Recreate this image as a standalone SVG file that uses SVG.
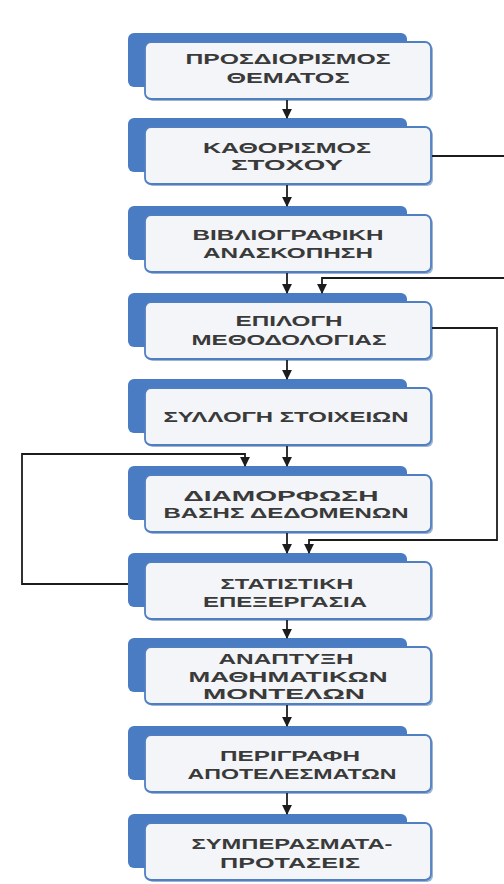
<svg xmlns="http://www.w3.org/2000/svg" width="504" height="884" viewBox="0 0 504 884">
<defs>
<style>
.back{fill:#4a7cc3;}
.shadow{fill:#9fb4d3;}
.front{fill:#f3f5f9;stroke:#4f7fc0;stroke-width:1.8;}
.t{font-family:"Liberation Sans","DejaVu Sans",sans-serif;font-size:14.5px;font-weight:bold;fill:#3a3a3a;text-anchor:middle;}
.c{fill:none;stroke:#1c1c1c;stroke-width:1.8;}
</style>
<marker id="ah" viewBox="0 0 10 10" refX="9" refY="5" markerWidth="5.5" markerHeight="5.5" orient="auto" markerUnits="strokeWidth">
<path d="M0,0 L10,5 L0,10 z" fill="#1c1c1c"/>
</marker>
</defs>
<rect width="504" height="884" fill="#ffffff"/>

<g id="n1">
<rect class="back" x="128" y="33" width="279" height="54" rx="6"/>
<rect class="shadow" x="147" y="44" width="286" height="57" rx="6"/>
<rect class="front" x="145" y="42" width="286" height="57" rx="6"/>
<text class="t" x="288" y="64" textLength="205" lengthAdjust="spacingAndGlyphs">ΠΡΟΣΔΙΟΡΙΣΜΟΣ</text>
<text class="t" x="288" y="83" textLength="123" lengthAdjust="spacingAndGlyphs">ΘΕΜΑΤΟΣ</text>
</g>
<g id="n2">
<rect class="back" x="128" y="118" width="279" height="54" rx="6"/>
<rect class="shadow" x="147" y="129" width="286" height="57" rx="6"/>
<rect class="front" x="145" y="127" width="286" height="57" rx="6"/>
<text class="t" x="287" y="153" textLength="168" lengthAdjust="spacingAndGlyphs">ΚΑΘΟΡΙΣΜΟΣ</text>
<text class="t" x="287" y="170" textLength="112" lengthAdjust="spacingAndGlyphs">ΣΤΟΧΟΥ</text>
</g>
<g id="n3">
<rect class="back" x="128" y="206" width="279" height="54" rx="6"/>
<rect class="shadow" x="147" y="217" width="286" height="57" rx="6"/>
<rect class="front" x="145" y="215" width="286" height="57" rx="6"/>
<text class="t" x="288" y="240" textLength="191" lengthAdjust="spacingAndGlyphs">ΒΙΒΛΙΟΓΡΑΦΙΚΗ</text>
<text class="t" x="288" y="258" textLength="170" lengthAdjust="spacingAndGlyphs">ΑΝΑΣΚΟΠΗΣΗ</text>
</g>
<g id="n4">
<rect class="back" x="128" y="293" width="279" height="54" rx="6"/>
<rect class="shadow" x="147" y="304" width="286" height="57" rx="6"/>
<rect class="front" x="145" y="302" width="286" height="57" rx="6"/>
<text class="t" x="289" y="326" textLength="107" lengthAdjust="spacingAndGlyphs">ΕΠΙΛΟΓΗ</text>
<text class="t" x="289" y="345" textLength="195" lengthAdjust="spacingAndGlyphs">ΜΕΘΟΔΟΛΟΓΙΑΣ</text>
</g>
<g id="n5">
<rect class="back" x="128" y="379" width="279" height="54" rx="6"/>
<rect class="shadow" x="147" y="390" width="286" height="57" rx="6"/>
<rect class="front" x="145" y="388" width="286" height="57" rx="6"/>
<text class="t" x="286" y="422" textLength="245" lengthAdjust="spacingAndGlyphs">ΣΥΛΛΟΓΗ ΣΤΟΙΧΕΙΩΝ</text>
</g>
<g id="n6">
<rect class="back" x="128" y="466" width="279" height="54" rx="6"/>
<rect class="shadow" x="147" y="477" width="286" height="57" rx="6"/>
<rect class="front" x="145" y="475" width="286" height="57" rx="6"/>
<text class="t" x="281" y="501" textLength="195" lengthAdjust="spacingAndGlyphs">ΔΙΑΜΟΡΦΩΣΗ</text>
<text class="t" x="286" y="518" textLength="245" lengthAdjust="spacingAndGlyphs">ΒΑΣΗΣ ΔΕΔΟΜΕΝΩΝ</text>
</g>
<g id="n7">
<rect class="back" x="128" y="553" width="279" height="54" rx="6"/>
<rect class="shadow" x="147" y="564" width="286" height="57" rx="6"/>
<rect class="front" x="145" y="562" width="286" height="57" rx="6"/>
<text class="t" x="287" y="589" textLength="133" lengthAdjust="spacingAndGlyphs">ΣΤΑΤΙΣΤΙΚΗ</text>
<text class="t" x="285" y="607" textLength="164" lengthAdjust="spacingAndGlyphs">ΕΠΕΞΕΡΓΑΣΙΑ</text>
</g>
<g id="n8">
<rect class="back" x="128" y="638" width="279" height="54" rx="6"/>
<rect class="shadow" x="147" y="649" width="286" height="57" rx="6"/>
<rect class="front" x="145" y="647" width="286" height="57" rx="6"/>
<text class="t" x="286" y="664" textLength="135" lengthAdjust="spacingAndGlyphs">ΑΝΑΠΤΥΞΗ</text>
<text class="t" x="288" y="682" textLength="199" lengthAdjust="spacingAndGlyphs">ΜΑΘΗΜΑΤΙΚΩΝ</text>
<text class="t" x="284" y="699" textLength="162" lengthAdjust="spacingAndGlyphs">ΜΟΝΤΕΛΩΝ</text>
</g>
<g id="n9">
<rect class="back" x="128" y="726" width="279" height="54" rx="6"/>
<rect class="shadow" x="147" y="737" width="286" height="57" rx="6"/>
<rect class="front" x="145" y="735" width="286" height="57" rx="6"/>
<text class="t" x="290" y="761" textLength="140" lengthAdjust="spacingAndGlyphs">ΠΕΡΙΓΡΑΦΗ</text>
<text class="t" x="292" y="779" textLength="209" lengthAdjust="spacingAndGlyphs">ΑΠΟΤΕΛΕΣΜΑΤΩΝ</text>
</g>
<g id="n10">
<rect class="back" x="128" y="814" width="279" height="54" rx="6"/>
<rect class="shadow" x="147" y="825" width="286" height="57" rx="6"/>
<rect class="front" x="145" y="823" width="286" height="57" rx="6"/>
<text class="t" x="292" y="849" textLength="201" lengthAdjust="spacingAndGlyphs">ΣΥΜΠΕΡΑΣΜΑΤΑ-</text>
<text class="t" x="290" y="868" textLength="140" lengthAdjust="spacingAndGlyphs">ΠΡΟΤΑΣΕΙΣ</text>
</g>

<g id="connectors">
<path class="c" d="M287,100 V118" marker-end="url(#ah)"/>
<path class="c" d="M287,185 V206" marker-end="url(#ah)"/>
<path class="c" d="M287,273 V293" marker-end="url(#ah)"/>
<path class="c" d="M287,360 V379" marker-end="url(#ah)"/>
<path class="c" d="M287,446 V466" marker-end="url(#ah)"/>
<path class="c" d="M287,533 V553" marker-end="url(#ah)"/>
<path class="c" d="M287,620 V638" marker-end="url(#ah)"/>
<path class="c" d="M287,705 V726" marker-end="url(#ah)"/>
<path class="c" d="M287,793 V814" marker-end="url(#ah)"/>
<path class="c" d="M432,156 H508 V278 H322 V293" marker-end="url(#ah)"/>
<path class="c" d="M432,328 H497 V540 H309 V553" marker-end="url(#ah)"/>
<path class="c" d="M128,584 H22 V454 H245 V466" marker-end="url(#ah)"/>
</g>
</svg>
